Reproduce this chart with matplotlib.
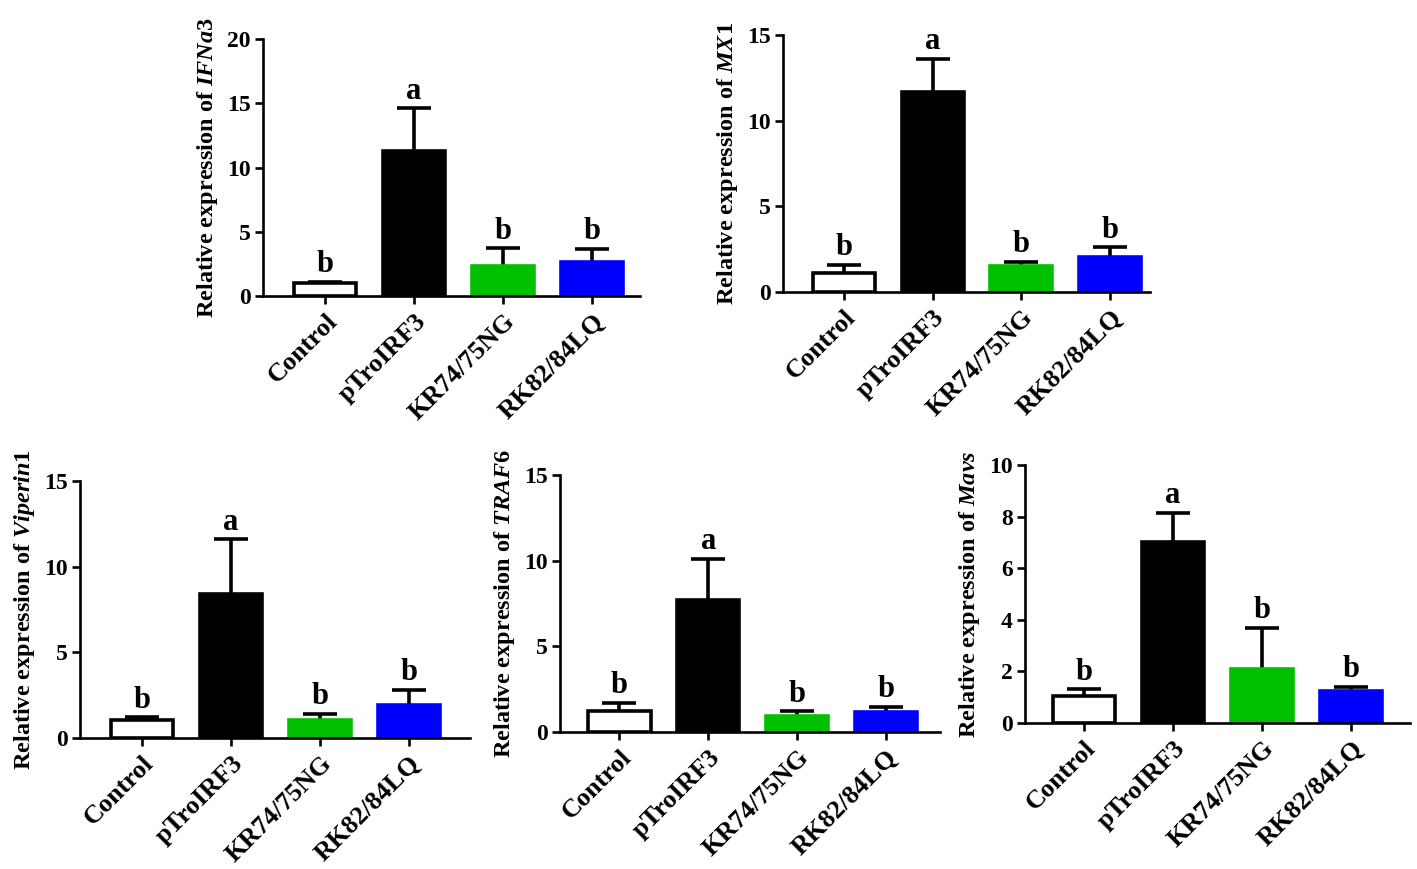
import numpy as np
import matplotlib
matplotlib.use('Agg')
import matplotlib.pyplot as plt

plt.rcParams['font.family'] = 'Liberation Serif'
plt.rcParams['font.weight'] = 'bold'
plt.rcParams['mathtext.fontset'] = 'custom'
plt.rcParams['mathtext.rm'] = 'Liberation Serif'
plt.rcParams['mathtext.it'] = 'Liberation Serif:italic'

groups = ['Control', 'pTroIRF3', 'KR74/75NG', 'RK82/84LQ']
letters = ['b', 'a', 'b', 'b']
bar_colors = ['white', 'black', '#00c000', '#0000ff']
edge_colors = ['black', 'black', '#00c000', '#0000ff']

# mean and upper SD
ifna3_mean = [1.0, 11.3, 2.35, 2.65]
ifna3_err = [0.1, 3.3, 1.35, 1.0]
mx1_mean = [1.1, 11.7, 1.5, 2.05]
mx1_err = [0.5, 1.9, 0.25, 0.55]
viperin_mean = [1.05, 8.4, 1.05, 1.95]
viperin_err = [0.15, 3.2, 0.35, 0.85]
traf6_mean = [1.2, 7.7, 0.95, 1.15]
traf6_err = [0.5, 2.4, 0.25, 0.3]
mavs_mean = [1.05, 7.0, 2.1, 1.25]
mavs_err = [0.25, 1.15, 1.6, 0.15]

W, H = 1417, 869
fig = plt.figure(figsize=(W / 100, H / 100), dpi=100)

# (gene, means, errs, ymax, ystep, px_left, px_right, px_top, px_bottom, xlo, xhi)
panels = [
    ('IFNa3', ifna3_mean, ifna3_err, 20, 5, 263, 640, 39, 296, 0.70, 0.54),
    ('MX1', mx1_mean, mx1_err, 15, 5, 783, 1150, 35, 292, 0.69, 0.45),
    ('Viperin1', viperin_mean, viperin_err, 15, 5, 80, 470, 481, 738, 0.70, 0.69),
    ('TRAF6', traf6_mean, traf6_err, 15, 5, 560, 940, 475, 732, 0.67, 0.61),
    ('Mavs', mavs_mean, mavs_err, 10, 2, 1025, 1410, 465, 723, 0.66, 0.66),
]

x = np.arange(len(groups))
for gene, means, errs, ymax, ystep, l, r, t, b, xlo, xhi in panels:
    ax = fig.add_axes([l / W, 1 - b / H, (r - l) / W, (b - t) / H])
    ax.patch.set_alpha(0)
    eb = ax.errorbar(x, means, yerr=[np.zeros(len(errs)), errs], fmt='none',
                     ecolor='black', elinewidth=2.6, capsize=12.5, capthick=2.6, zorder=1)
    eb[1][0].set_visible(False)
    ax.bar(x, means, width=0.7, color=bar_colors, edgecolor=edge_colors,
           linewidth=2.6, zorder=2)
    for xi, m, e, lt in zip(x, means, errs, letters):
        ax.annotate(lt, (xi, m + e), xytext=(0, 7), textcoords='offset points',
                    ha='center', va='baseline', fontsize=22, fontweight='bold')
    ax.set_xlim(-xlo, len(groups) - 1 + xhi)
    ax.set_ylim(0, ymax)
    ax.set_yticks(np.arange(0, ymax + 0.01, ystep))
    ax.set_xticks(x)
    ax.set_xticklabels(groups, rotation=45, ha='right', rotation_mode='anchor',
                       fontsize=19, fontweight='bold')
    for lab in ax.get_yticklabels():
        lab.set_fontsize(17)
        lab.set_fontweight('bold')
    ax.spines['top'].set_visible(False)
    ax.spines['right'].set_visible(False)
    ax.spines['left'].set_linewidth(1.9)
    ax.spines['bottom'].set_linewidth(1.9)
    ax.tick_params(axis='both', direction='out', length=6, width=1.9)
    ax.tick_params(axis='y', pad=3)
    ax.tick_params(axis='x', pad=4)
    ax.set_ylabel('Relative expression of $\\mathit{' + gene + '}$',
                  fontsize=17.5, fontweight='bold', labelpad=5)

fig.savefig('out.png', dpi=100)
